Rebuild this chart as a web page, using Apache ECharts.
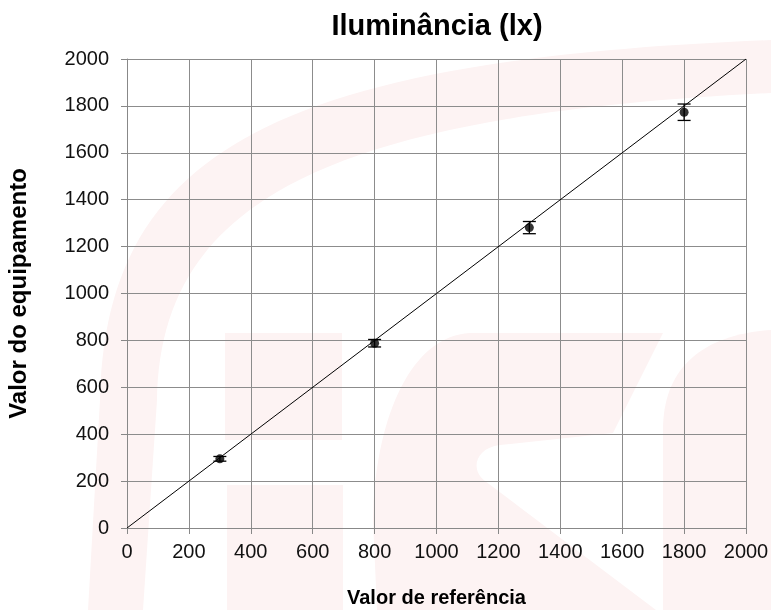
<!DOCTYPE html>
<html><head><meta charset="utf-8">
<script src="https://cdn.jsdelivr.net/npm/echarts@6/dist/echarts.min.js"></script>
<style>
html,body{margin:0;padding:0;background:#fff}
#wrap{position:relative;width:771px;height:610px}
#wm{position:absolute;left:0;top:0;width:771px;height:610px}
#c{position:absolute;left:0;top:0;width:771px;height:610px}
</style>
</head><body>
<div id="wrap">
<svg id="wm" width="771" height="610" viewBox="0 0 771 610" xmlns="http://www.w3.org/2000/svg">
  <g fill="#fdf3f3">
    <path d="M88,610 L100,400 C105,150 280,60 771,40 L771,93 C330,115 160,200 157,400 L143,610 Z"/>
    <rect x="225" y="333" width="117" height="107"/>
    <rect x="227" y="485" width="116" height="125"/>
    <path d="M377,610 L373,520 C375,420 410,336 470,333 L663,333 L613,433 L500,445 C475,448 470,470 485,481 L656,610 Z"/>
    <path d="M663,610 L663,430 C663,370 700,335 771,330 L771,610 Z"/>
  </g>
</svg>
<div id="c"></div>
</div>
<script>
// ---- data ----
const referenceValues = [300, 800, 1300, 1800];
const equipmentValues = [295, 788, 1281, 1773];
const uncertainty = [10, 16, 26, 35];
const identityX = [0, 2000];
const identityY = [0, 2000];
const tickLabels = ['0','200','400','600','800','1000','1200','1400','1600','1800','2000'];
const titleText = 'Iluminância (lx)';
const xName = 'Valor de referência';
const yName = 'Valor do equipamento';

// ---- build ----
const pointData = referenceValues.map((x, i) => [x, equipmentValues[i]]);
const errData = referenceValues.map((x, i) => [x, equipmentValues[i] - uncertainty[i], equipmentValues[i] + uncertainty[i]]);
const lineData = identityX.map((x, i) => [x, identityY[i]]);

const FONT = '"Liberation Sans", Arial, sans-serif';
const chart = echarts.init(document.getElementById('c'), null, {renderer: 'canvas'});

const axisCommon = {
  type: 'value', min: 0, max: 2000, interval: 200,
  axisLine: {show: true, lineStyle: {color: '#888', width: 1}},
  axisTick: {show: true, length: 6, lineStyle: {color: '#888', width: 1}},
  splitLine: {show: true, lineStyle: {color: '#8c8c8c', width: 1}},
  axisLabel: {color: '#111', fontSize: 20, fontFamily: FONT,
    formatter: v => tickLabels[Math.round(v / 200)]},
  nameLocation: 'middle',
  nameTextStyle: {color: '#000', fontSize: 20, fontWeight: 'bold', fontFamily: FONT}
};

chart.setOption({
  backgroundColor: 'transparent',
  animation: false,
  title: {text: titleText, left: 437, top: 12, textAlign: 'center', padding: 0,
    textStyle: {fontSize: 29, fontWeight: 'bold', fontFamily: FONT, color: '#000'}},
  grid: {left: 127, top: 59, right: 25, bottom: 82, containLabel: false, outerBoundsMode: 'none'},
  xAxis: Object.assign({}, axisCommon, {
    name: xName, nameGap: 60,
    axisLabel: Object.assign({}, axisCommon.axisLabel, {margin: 14})
  }),
  yAxis: Object.assign({}, axisCommon, {
    name: yName, nameGap: 96,
    nameTextStyle: Object.assign({}, axisCommon.nameTextStyle, {fontSize: 24}),
    axisLabel: Object.assign({}, axisCommon.axisLabel, {margin: 18})
  }),
  series: [
    {type: 'line', data: lineData, showSymbol: false, symbol: 'none',
      lineStyle: {color: '#000', width: 1}, z: 3, silent: true},
    {type: 'custom', data: errData, z: 4,
      renderItem: function (params, api) {
        const x = api.value(0);
        const lo = api.coord([x, api.value(1)]);
        const hi = api.coord([x, api.value(2)]);
        const hw = 6.5;
        const st = {stroke: '#000', lineWidth: 1.3};
        return {type: 'group', children: [
          {type: 'line', shape: {x1: lo[0], y1: lo[1], x2: hi[0], y2: hi[1]}, style: st},
          {type: 'line', shape: {x1: lo[0] - hw, y1: lo[1], x2: lo[0] + hw, y2: lo[1]}, style: st},
          {type: 'line', shape: {x1: hi[0] - hw, y1: hi[1], x2: hi[0] + hw, y2: hi[1]}, style: st}
        ]};
      }
    },
    {type: 'scatter', data: pointData, symbol: 'circle', symbolSize: 9, z: 5,
      itemStyle: {color: '#000'}}
  ]
});
</script>
</body></html>
